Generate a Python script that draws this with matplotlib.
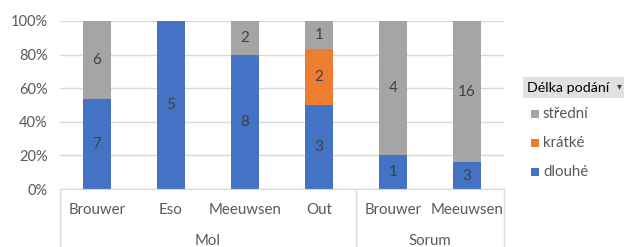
import numpy as np
import matplotlib.pyplot as plt
from matplotlib.patches import Rectangle
from matplotlib.lines import Line2D

plt.rcParams['font.family'] = ['Lato', 'DejaVu Sans']

names = ['Brouwer', 'Eso', 'Meeuwsen', 'Out', 'Brouwer', 'Meeuwsen']
groups = ['Mol', 'Sorum']
group_sizes = [4, 2]
dlouhe = np.array([7, 5, 8, 3, 1, 3])
kratke = np.array([0, 0, 0, 2, 0, 0])
stredni = np.array([6, 0, 2, 1, 4, 16])

series = [('dlouhé', dlouhe, '#4472C4'),
          ('krátké', kratke, '#ED7D31'),
          ('střední', stredni, '#A5A5A5')]

total = dlouhe + kratke + stredni
txt = '#404040'
tick_col = '#595959'
line_col = '#D9D9D9'

fig = plt.figure(figsize=(6.24, 2.47), dpi=100)
ax = fig.add_axes([60 / 624, 58 / 247, 444 / 624, 168 / 247])

x = np.arange(len(names))
bottom = np.zeros(len(names))
for label, vals, col in series:
    pct = vals / total
    ax.bar(x, pct, 0.39, bottom=bottom, color=col, label=label, zorder=2)
    for i in range(len(x)):
        if vals[i] > 0:
            ax.text(x[i], bottom[i] + pct[i] / 2, str(vals[i]), ha='center', va='center',
                    fontsize=11, color=txt, zorder=3)
    bottom += pct

ax.set_xlim(-0.5, len(names) - 0.5)
ax.set_ylim(0, 1)
ax.set_yticks(np.arange(0, 1.01, 0.2))
ax.set_yticklabels(['%d%%' % v for v in range(0, 101, 20)], color=tick_col, fontsize=10.5)
ax.tick_params(axis='y', length=0, pad=9)
ax.set_xticks([])
ax.grid(axis='y', color=line_col, linewidth=1, zorder=0)
for s in ['top', 'right', 'left']:
    ax.spines[s].set_visible(False)
ax.spines['bottom'].set_color(line_col)

# category labels and group separators below axis
for i, n in enumerate(names):
    ax.text(x[i], -0.125, n, ha='center', va='center', fontsize=10.8, color=tick_col,
            transform=ax.get_xaxis_transform(), clip_on=False)
edges = np.concatenate([[0], np.cumsum(group_sizes)]) - 0.5
for e in edges:
    ax.add_line(Line2D([e, e], [0, -0.35], color=line_col, linewidth=1,
                       transform=ax.get_xaxis_transform(), clip_on=False))
for g, a, b in zip(groups, edges[:-1], edges[1:]):
    ax.text((a + b) / 2, -0.31, g, ha='center', va='center', fontsize=10.8, color=tick_col,
            transform=ax.get_xaxis_transform(), clip_on=False)

# legend with title box
fig.patches.append(Rectangle((523 / 624, 149 / 247), 101 / 624, 21 / 247,
                             transform=fig.transFigure, facecolor='#E1E1E1', edgecolor='none'))
fig.text(527 / 624, 159.5 / 247, 'Délka podání', fontsize=10.3, color='black', va='center')
fig.text(619 / 624, 160 / 247, '▾', fontsize=7, color='#404040', va='center', ha='center')
leg_y = [133, 104, 75]
for (label, vals, col), yy in zip(series[::-1], leg_y):
    fig.patches.append(Rectangle((531 / 624, (yy - 4) / 247), 8 / 624, 8 / 247,
                                 transform=fig.transFigure, facecolor=col, edgecolor='none'))
    fig.text(543 / 624, yy / 247, label, fontsize=10.8, color=tick_col, va='center')

fig.savefig('out.png', dpi=100)
